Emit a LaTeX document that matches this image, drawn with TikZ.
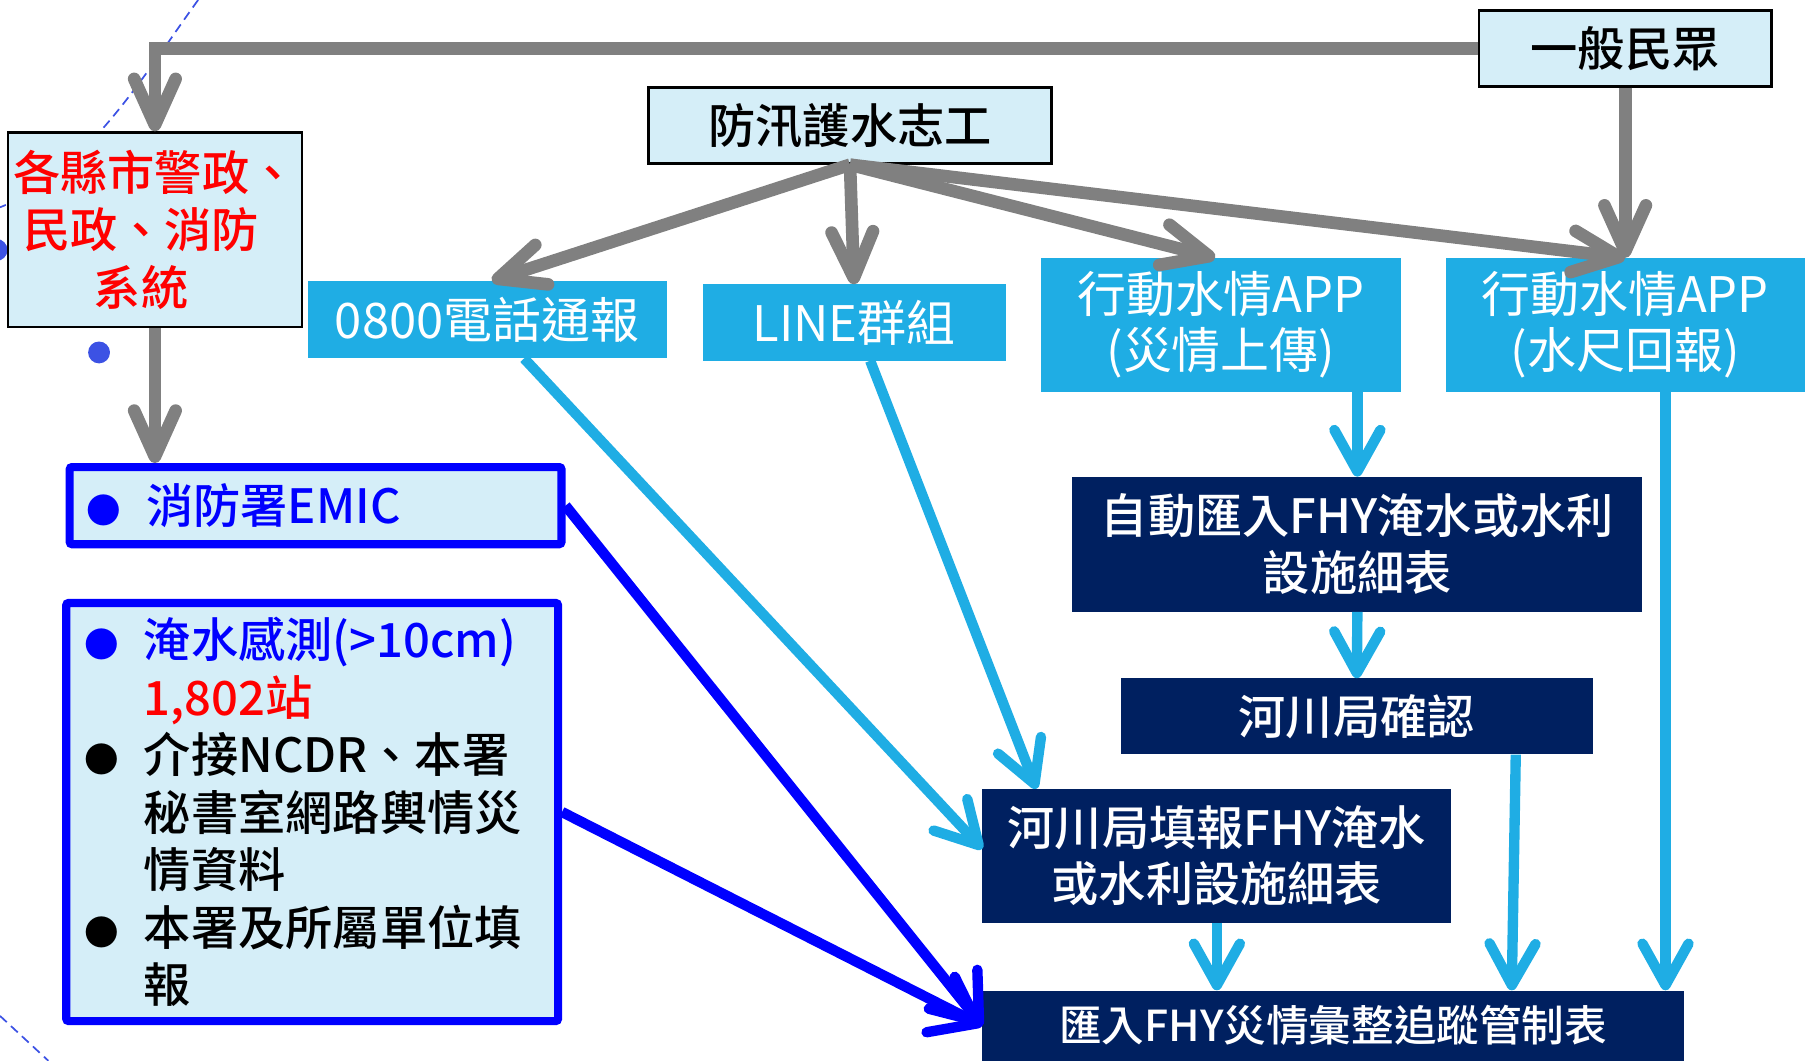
\documentclass[tikz,border=0pt]{standalone}
\usepackage{fontspec}
\setmainfont{Noto Sans CJK TC}[BoldFont={Noto Sans CJK TC Medium}]
\usetikzlibrary{arrows.meta,calc}
\definecolor{lightcyan}{RGB}{213,238,248}
\definecolor{appblue}{RGB}{31,173,228}
\definecolor{navyblue}{RGB}{0,32,96}
\definecolor{arrowgray}{RGB}{128,128,128}
\definecolor{dotblue}{RGB}{60,82,228}
\newcommand{\bulmark}[1]{\makebox[52pt][l]{\textcolor{#1}{\fontsize{30}{50}\selectfont ●}}}
\tikzset{
  lightbox/.style={draw=black, line width=2pt, fill=lightcyan, inner sep=0pt, align=center,
    font=\bfseries\fontsize{41}{50}\selectfont},
  appbox/.style={fill=appblue, text=white, inner sep=0pt, align=center,
    font=\fontsize{42.5}{49}\selectfont},
  navybox/.style={fill=navyblue, text=white, inner sep=0pt, align=center,
    font=\bfseries\fontsize{41}{49}\selectfont},
  bluebox/.style={draw=blue, line width=7pt, fill=lightcyan, rounded corners=2pt, inner sep=0pt,
    align=left, font=\bfseries\fontsize{41}{50}\selectfont},
  grayarr/.style={draw=arrowgray, line width=11pt, -{Straight Barb[length=40pt,width=36pt,round]}},
  lbarr/.style={draw=appblue, line width=9pt, -{Straight Barb[length=36pt,width=40pt,round]}},
  blarr/.style={draw=blue, line width=9pt, -{Straight Barb[length=36pt,width=54pt,round]}},
  decodash/.style={draw=dotblue, line width=1.5pt, dash pattern=on 8pt off 5pt}
}
\begin{document}
\begin{tikzpicture}[x=1pt,y=-1pt]
\clip (0,0) rectangle (1568,921);
% background decorations
\draw[decodash] (172,0) .. controls (125,65) and (75,150) .. (0,180);
\draw[decodash] (0,882) -- (42,921);
\fill[dotblue] (86,306) circle (9.5);
\fill[dotblue] (-3,217) circle (9.5);

% nodes
\node[lightbox, minimum width=255pt, minimum height=169pt, text=red] (A) at (134.5,199.5)
  {各縣市警政、\\民政、消防\rule{24pt}{0pt}\\系統\rule{24pt}{0pt}};
\node[lightbox, minimum width=350pt, minimum height=66pt] (B) at (738,109) {防汛護水志工};
\node[lightbox, minimum width=254pt, minimum height=66pt] (C) at (1411,42) {一般民眾};

\node[appbox, minimum width=312pt, minimum height=67pt] (D) at (423,277.5) {0800電話通報};
\node[appbox, minimum width=263pt, minimum height=66pt] (E) at (741.5,280) {LINE群組};
\node[appbox, minimum width=312pt, minimum height=116pt] (F) at (1060,282) {行動水情APP\\(災情上傳)};
\node[appbox, minimum width=312pt, minimum height=116pt] (G) at (1411,282) {行動水情APP\\(水尺回報)};

\node[navybox, minimum width=495pt, minimum height=117pt] (H) at (1178.5,472.5) {自動匯入FHY淹水或水利\\設施細表};
\node[navybox, minimum width=410pt, minimum height=66pt] (I) at (1178,622) {河川局確認};
\node[navybox, minimum width=407pt, minimum height=116pt] (J) at (1056.5,743) {河川局填報FHY淹水\\或水利設施細表};
\node[navybox, minimum width=609pt, minimum height=61pt, font=\bfseries\fontsize{37}{45}\selectfont] (K) at (1157.5,890.5) {匯入FHY災情彙整追蹤管制表};

\node[bluebox, minimum width=427pt, minimum height=67pt, text width=398pt, text=blue] (L) at (274,439)
  {\bulmark{blue}消防署EMIC};
\node[bluebox, minimum width=427pt, minimum height=363pt, text width=396pt] (M) at (271,705)
  {\bulmark{blue}\textcolor{blue}{淹水感測(>10cm)}\\
   \hspace*{52pt}\textcolor{red}{1,802站}\\
   \bulmark{black}介接NCDR、本署\\
   \hspace*{52pt}秘書室網路輿情災\\
   \hspace*{52pt}情資料\\
   \bulmark{black}本署及所屬單位填\\
   \hspace*{52pt}報};

% gray connectors
\draw[grayarr] (C.west) -- (A.north |- C.west) -- (A.north);
\draw[grayarr] (C.south) -- (G.north);
\draw[grayarr] (A.south) -- (A.south |- L.north);
\draw[grayarr] (B.south) -- ($(D.north)+(4,0)$);
\draw[grayarr] (B.south) -- (E.north);
\draw[grayarr] (B.south) -- ($(F.north)+(-5,0)$);
\draw[grayarr] (B.south) -- (G.north);

% light blue connectors
\coordinate (g1) at ($(G.south)+(35,0)$);
\draw[lbarr] ($(D.south)+(32,0)$) -- ($(J.west)+(0,-6)$);
\draw[lbarr] ($(E.south)+(14,0)$) -- ($(J.north west)+(47,0)$);
\draw[lbarr] (F.south -| H.north) -- (H.north);
\draw[lbarr] (H.south) -- (I.north);
\draw[lbarr] ($(I.south)+(138,0)$) -- ($(K.north)+(155,0)$);
\draw[lbarr] (g1) -- (g1 |- K.north);
\draw[lbarr] (J.south) -- (J.south |- K.north);

% blue connectors
\draw[blarr] (L.east) -- (K.west);
\draw[blarr] (M.east) -- (K.west);
\end{tikzpicture}
\end{document}
